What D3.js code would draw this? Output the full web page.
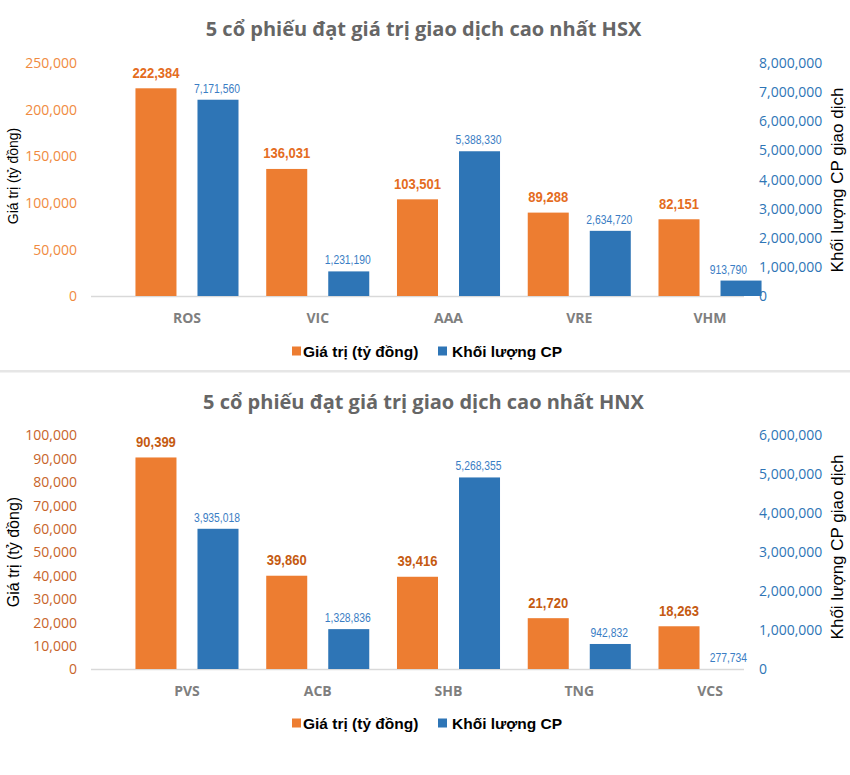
<!DOCTYPE html>
<html>
<head>
<meta charset="utf-8">
<script src="https://cdn.jsdelivr.net/npm/d3@7"></script>
<style>
  html, body { margin: 0; padding: 0; background: #ffffff; }
  svg { display: block; }
</style>
</head>
<body>
<svg id="chart" width="850" height="775"></svg>
<script>
// ---------- DATA ----------
const seriesNames = ["Giá trị (tỷ đồng)", "Khối lượng CP"];

const hsxTitle = "5 cổ phiếu đạt giá trị giao dịch cao nhất HSX";
const hsxCategories = ["ROS", "VIC", "AAA", "VRE", "VHM"];
const hsxValues = [222384, 136031, 103501, 89288, 82151];
const hsxVolumes = [7171560, 1231190, 5388330, 2634720, 913790];
const hsxValueTicks = [0, 50000, 100000, 150000, 200000, 250000];
const hsxVolumeTicks = [0, 1000000, 2000000, 3000000, 4000000, 5000000, 6000000, 7000000, 8000000];

const hnxTitle = "5 cổ phiếu đạt giá trị giao dịch cao nhất HNX";
const hnxCategories = ["PVS", "ACB", "SHB", "TNG", "VCS"];
const hnxValues = [90399, 39860, 39416, 21720, 18263];
const hnxVolumes = [3935018, 1328836, 5268355, 942832, 277734];
const hnxValueTicks = [0, 10000, 20000, 30000, 40000, 50000, 60000, 70000, 80000, 90000, 100000];
const hnxVolumeTicks = [0, 1000000, 2000000, 3000000, 4000000, 5000000, 6000000];

const leftAxisTitle = "Giá trị (tỷ đồng)";
const rightAxisTitle = "Khối lượng CP giao dịch";

// ---------- STYLE ----------
const ORANGE = "#ED7D31";
const BLUE = "#2E75B6";
const fmt = d3.format(",");
const svg = d3.select("#chart");

// emulate a condensed (narrow) face
function condense(sel, k) {
  sel.each(function () {
    const w = this.getComputedTextLength();
    d3.select(this).attr("textLength", w * k).attr("lengthAdjust", "spacingAndGlyphs");
  });
}

function drawChart(cfg) {
  const g = svg.append("g");

  // title
  g.append("text")
    .attr("x", 423.5).attr("y", cfg.titleY)
    .attr("text-anchor", "middle").attr("dominant-baseline", "central")
    .style("font-family", "'Open Sans', 'Noto Sans', sans-serif")
    .style("font-weight", "700").style("font-size", "20px")
    .style("fill", "#666666")
    .text(cfg.title);

  // scales
  const x = d3.scaleBand().domain(cfg.categories)
    .range([121.6, 775.4]).paddingInner(0.212).paddingOuter(0.106);
  const xs = d3.scaleBand().domain(seriesNames)
    .range([0, x.bandwidth()]).paddingInner(0.3387).paddingOuter(0);

  const yL = d3.scaleLinear()
    .domain([0, d3.max(cfg.valueTicks)])
    .range([cfg.base, cfg.top]);
  const yR = d3.scaleLinear()
    .domain([0, d3.max(cfg.volumeTicks)])
    .range([cfg.base, cfg.top]);
  // the volume bars in the source picture start slightly above zero
  const yRbar = d3.scaleLinear()
    .domain([cfg.volumeFloor, d3.max(cfg.volumeTicks)])
    .range([cfg.base, cfg.base - cfg.volumeSlope * (d3.max(cfg.volumeTicks) - cfg.volumeFloor) / 1e6])
    .clamp(true);

  // left axis
  const axL = d3.axisLeft(yL).tickValues(cfg.valueTicks).tickFormat(fmt).tickSize(0).tickPadding(0);
  const gl = g.append("g").attr("transform", "translate(77,0)").call(axL);
  gl.select(".domain").remove();
  gl.selectAll("text")
    .style("font-family", "'Open Sans', 'Noto Sans', sans-serif")
    .style("font-size", "14px").style("fill", cfg.leftTickColor)
    .attr("dy", "0.35em");

  // right axis
  const axR = d3.axisRight(yR).tickValues(cfg.volumeTicks).tickFormat(fmt).tickSize(0).tickPadding(0);
  const gr = g.append("g").attr("transform", "translate(759,0)").call(axR);
  gr.select(".domain").remove();
  gr.selectAll("text")
    .style("font-family", "'Open Sans', 'Noto Sans', sans-serif")
    .style("font-size", "14px").style("fill", "#2E75B6")
    .attr("dy", "0.35em");

  // axis titles
  g.append("text")
    .attr("transform", `translate(13,${cfg.leftTitleY}) rotate(-90)`)
    .attr("text-anchor", "middle").attr("dominant-baseline", "central")
    .style("font-family", "'Liberation Sans', Arial, sans-serif")
    .style("font-size", cfg.leftTitleSize).style("fill", "#000")
    .text(leftAxisTitle);
  g.append("text")
    .attr("transform", `translate(837,${cfg.rightTitleY}) rotate(-90)`)
    .attr("text-anchor", "middle").attr("dominant-baseline", "central")
    .style("font-family", "'Liberation Sans', Arial, sans-serif")
    .style("font-size", "17px").style("fill", "#000")
    .text(rightAxisTitle);

  // baseline
  g.append("line")
    .attr("x1", 91).attr("x2", 744)
    .attr("y1", cfg.base + 0.5).attr("y2", cfg.base + 0.5)
    .attr("stroke", "#d9d9d9").attr("stroke-width", 1.5);

  const groups = g.selectAll(".grp").data(cfg.categories).enter().append("g")
    .attr("transform", d => `translate(${x(d)},0)`);

  // orange bars
  groups.append("rect")
    .attr("x", xs(seriesNames[0]))
    .attr("width", xs.bandwidth())
    .attr("y", (d, i) => yL(cfg.values[i]))
    .attr("height", (d, i) => cfg.base - yL(cfg.values[i]))
    .attr("fill", ORANGE);

  // blue bars
  groups.append("rect")
    .attr("x", xs(seriesNames[1]))
    .attr("width", xs.bandwidth())
    .attr("y", (d, i) => yRbar(cfg.volumes[i]))
    .attr("height", (d, i) => cfg.base - yRbar(cfg.volumes[i]))
    .attr("fill", BLUE);

  // data labels
  groups.append("text")
    .attr("x", xs(seriesNames[0]) + xs.bandwidth() / 2)
    .attr("y", (d, i) => yL(cfg.values[i]) - 16)
    .attr("text-anchor", "middle").attr("dominant-baseline", "central")
    .style("font-family", "'Liberation Sans', Arial, sans-serif")
    .style("font-weight", "700").style("font-size", "15.5px")
    .style("fill", cfg.valueLabelColor)
    .text((d, i) => fmt(cfg.values[i]))
    .call(condense, 0.84);

  const labelRightLimit = 747; // keep labels inside the plot area
  groups.append("text")
    .attr("y", (d, i) => yRbar(cfg.volumes[i]) - 11)
    .attr("text-anchor", "middle").attr("dominant-baseline", "central")
    .style("font-family", "'Liberation Sans', Arial, sans-serif")
    .style("font-size", "12px")
    .style("fill", "#3A7DC4")
    .text((d, i) => fmt(cfg.volumes[i]))
    .call(condense, 0.86)
    .attr("x", function (d) {
      const w = +this.getAttribute("textLength");
      const cx = xs(seriesNames[1]) + xs.bandwidth() / 2 - 1;
      const maxCx = labelRightLimit - x(d) - w / 2;
      return Math.min(cx, maxCx);
    });

  // category labels
  groups.append("text")
    .attr("x", x.bandwidth() / 2)
    .attr("y", cfg.base + 21)
    .attr("text-anchor", "middle").attr("dominant-baseline", "central")
    .style("font-family", "'Open Sans', 'Noto Sans', sans-serif")
    .style("font-weight", "700").style("font-size", "14px")
    .style("fill", "#7f7f7f")
    .text(d => d);

  // legend
  const legendX = [292, 438];
  const lg = g.selectAll(".lg").data(seriesNames).enter().append("g")
    .attr("transform", (d, i) => `translate(${legendX[i]},${cfg.legendY})`);
  lg.append("rect").attr("x", 0).attr("y", -4.5).attr("width", 9).attr("height", 9)
    .attr("fill", (d, i) => i === 0 ? ORANGE : BLUE);
  lg.append("text").attr("x", (d, i) => i === 0 ? 11 : 14).attr("y", 0)
    .attr("dominant-baseline", "central")
    .style("font-family", "'Liberation Sans', Arial, sans-serif")
    .style("font-weight", "700").style("font-size", "15.5px")
    .style("fill", "#000")
    .text(d => d);
}

drawChart({
  title: hsxTitle, titleY: 28,
  categories: hsxCategories, values: hsxValues, volumes: hsxVolumes,
  valueTicks: hsxValueTicks, volumeTicks: hsxVolumeTicks,
  base: 296, top: 62.5,
  volumeFloor: 380000, volumeSlope: 28.9,
  leftTickColor: "#F08A3E", valueLabelColor: "#E46C1E",
  leftTitleY: 176, leftTitleSize: "14px", rightTitleY: 180,
  legendY: 351
});

drawChart({
  title: hnxTitle, titleY: 401,
  categories: hnxCategories, values: hnxValues, volumes: hnxVolumes,
  valueTicks: hnxValueTicks, volumeTicks: hnxVolumeTicks,
  base: 669, top: 435,
  volumeFloor: 293000, volumeSlope: 38.5,
  leftTickColor: "#C8642A", valueLabelColor: "#C55A11",
  leftTitleY: 552, leftTitleSize: "16px", rightTitleY: 547,
  legendY: 723
});

// separator between the two charts
svg.append("rect").attr("x", 0).attr("y", 370).attr("width", 850).attr("height", 2.5)
  .attr("fill", "#e6e6e6");
</script>
</body>
</html>
